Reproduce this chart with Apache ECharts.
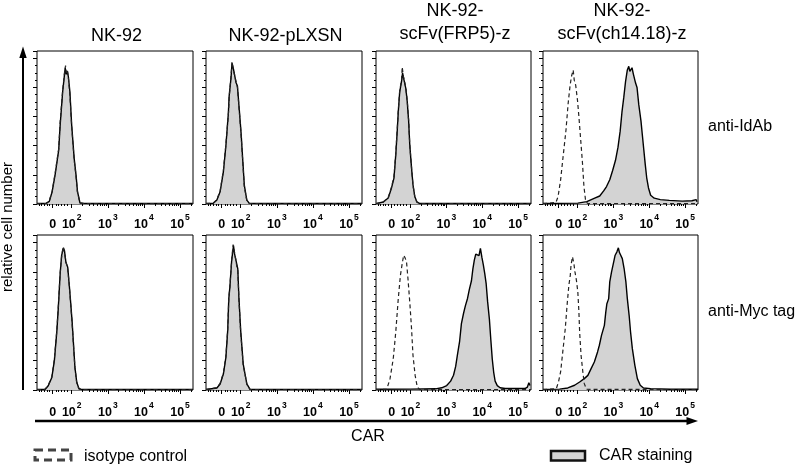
<!DOCTYPE html>
<html><head><meta charset="utf-8">
<script src="https://cdn.jsdelivr.net/npm/echarts@6/dist/echarts.min.js"></script>
<style>html,body{margin:0;padding:0;background:#fff}#c{width:798px;height:467px}</style>
</head><body><div id="c"></div>
<script>
// ---- text ----
const panelTitles = [['NK-92'], ['NK-92-pLXSN'], ['NK-92-', 'scFv(FRP5)-z'], ['NK-92-', 'scFv(ch14.18)-z']];
const rowLabels = ['anti-IdAb', 'anti-Myc tag'];
const xAxisTitle = 'CAR';
const yAxisTitle = 'relative cell number';
const legendIso = 'isotype control';
const legendCar = 'CAR staining';

// ---- x axis (biexponential display, in decades) ----
const tickValues = [1.474, 2, 3, 4, 5];
const tickBase = ['0', '10', '10', '10', '10'];
const tickExp = ['', '2', '3', '4', '5'];
const linearMinorTicks = [1.10, 1.17, 1.24, 1.31, 1.38, 1.56, 1.64, 1.72, 1.80, 1.88];
const xMin = 1.039, xMax = 5.36;

// ---- histogram data: [decade position, relative count] ----
// row 1: anti-IdAb
const nk92IdAbCar = [[1.04,0.3],[1.20,0.4],[1.29,0.4],[1.38,1.8],[1.46,8.6],[1.54,20],[1.64,37],[1.68,54],[1.75,77],[1.81,91],[1.82,93.5],[1.85,89],[1.88,91],[1.91,87],[1.93,86],[1.95,77],[2.00,54],[2.07,31],[2.12,20],[2.16,8.6],[2.23,0.7],[2.34,0.4],[3.2,0.3],[4.3,0.4],[5.36,0.3]];
const nk92IdAbIso = [[1.04,0.2],[1.29,0.3],[1.38,2.2],[1.46,9],[1.54,21],[1.64,38],[1.68,56],[1.75,78],[1.80,90],[1.83,95],[1.85,90],[1.88,92],[1.91,86],[1.93,85],[1.95,75],[2.00,53],[2.07,30],[2.12,19],[2.16,8],[2.23,0.8],[2.34,0.2],[5.36,0.2]];
const pLXSNIdAbCar = [[1.04,0.3],[1.24,0.5],[1.34,2.7],[1.43,8.4],[1.52,22],[1.59,40],[1.66,63],[1.68,74],[1.73,86],[1.76,96.6],[1.80,92.6],[1.82,93],[1.87,83.4],[1.91,81],[1.96,65],[2.01,49],[2.06,29],[2.10,13],[2.17,2.7],[2.24,0.4],[3.5,0.3],[5.36,0.3]];
const pLXSNIdAbIso = [[1.04,0.2],[1.24,0.6],[1.34,3],[1.43,9],[1.52,23],[1.59,41],[1.66,62],[1.68,73],[1.73,87],[1.76,97.5],[1.79,93],[1.82,94],[1.87,84],[1.91,80],[1.96,64],[2.01,48],[2.06,28],[2.10,12],[2.17,2.5],[2.24,0.2],[5.36,0.2]];
const frp5IdAbCar = [[1.04,0.3],[1.24,1.4],[1.38,4.1],[1.47,10.9],[1.54,17.8],[1.59,33.7],[1.63,49.7],[1.66,63.3],[1.70,77],[1.75,83.9],[1.78,90],[1.81,86.2],[1.84,87.3],[1.87,79.3],[1.91,70.2],[1.95,56.5],[1.98,40.6],[2.03,24.6],[2.07,13.2],[2.12,5.2],[2.18,1.4],[2.26,0.3],[5.36,0.3]];
const frp5IdAbIso = [[1.04,0.2],[1.24,1.2],[1.38,4.5],[1.47,11.5],[1.54,19],[1.59,35],[1.63,51],[1.66,64],[1.70,78],[1.75,85],[1.77,94],[1.80,88],[1.84,88],[1.87,80],[1.91,71],[1.95,57],[1.98,41],[2.03,25],[2.07,13],[2.12,5],[2.18,1.2],[2.26,0.2],[5.36,0.2]];
const ch1418IdAbCar = [[1.04,0.3],[2.01,0.6],[2.26,1.6],[2.48,4],[2.62,5.5],[2.73,9],[2.81,12],[2.90,16.6],[2.98,23],[3.06,30],[3.13,39],[3.19,50],[3.24,63],[3.29,73],[3.34,84],[3.39,92],[3.43,94.5],[3.46,91],[3.48,90.5],[3.52,93.5],[3.56,89],[3.62,83],[3.66,80],[3.71,68],[3.77,57],[3.81,47],[3.85,37],[3.89,27],[3.93,18],[3.98,11],[4.04,6],[4.14,4],[4.31,3],[4.56,2.5],[4.92,2],[5.19,2.2],[5.31,3],[5.33,1.5]];
const ch1418IdAbIso = [[1.04,0.2],[1.40,1.1],[1.46,5.2],[1.53,16.6],[1.60,32.6],[1.68,50.8],[1.74,69],[1.79,80.4],[1.83,87.3],[1.88,91.9],[1.91,85],[1.95,81.6],[2.00,71.3],[2.04,59.9],[2.09,44],[2.14,28],[2.18,12],[2.23,1.6],[2.29,0.3],[5.36,0.2]];
// row 2: anti-Myc tag
const nk92MycCar = [[1.04,0.3],[1.26,0.3],[1.35,2.9],[1.45,8.5],[1.52,19.9],[1.59,40.2],[1.63,56],[1.68,78.6],[1.72,91],[1.77,96.3],[1.80,94.4],[1.84,86.5],[1.89,83.1],[1.93,71.9],[1.96,62.8],[2.01,47],[2.05,31.2],[2.09,15.3],[2.14,5.2],[2.20,1],[2.28,0.3],[5.36,0.3]];
const nk92MycIso = [[1.04,0.2],[1.26,0.4],[1.35,3.2],[1.45,9],[1.52,21],[1.59,41],[1.63,57],[1.68,79],[1.72,90],[1.76,97],[1.80,93],[1.84,87],[1.89,82],[1.93,72],[1.96,62],[2.01,46],[2.05,30],[2.09,15],[2.14,5],[2.20,0.8],[2.28,0.2],[5.36,0.2]];
const pLXSNMycCar = [[1.04,0.3],[1.34,1.4],[1.43,4.1],[1.52,10.8],[1.59,22.1],[1.64,40.2],[1.67,61.7],[1.70,69.6],[1.75,87.7],[1.80,97.8],[1.83,92.2],[1.86,88.8],[1.89,85.4],[1.92,82],[1.95,62.8],[2.00,40.2],[2.07,17.6],[2.17,4.1],[2.26,0.4],[5.36,0.3]];
const pLXSNMycIso = [[1.04,0.2],[1.34,1.6],[1.43,4.5],[1.52,11.5],[1.59,23],[1.64,41],[1.67,62],[1.70,70],[1.75,88],[1.79,98.5],[1.83,93],[1.86,89],[1.89,84],[1.92,81],[1.95,62],[2.00,39],[2.07,17],[2.17,4],[2.26,0.2],[5.36,0.2]];
const frp5MycCar = [[1.04,0.5],[2.00,0.6],[2.70,0.8],[2.87,1.5],[3.01,3],[3.12,6],[3.20,10],[3.26,16],[3.31,24],[3.37,33],[3.42,45],[3.48,52],[3.53,57],[3.59,62],[3.64,68],[3.70,74],[3.74,82],[3.78,88],[3.82,92],[3.86,93],[3.91,91],[3.95,96],[3.99,90],[4.03,85],[4.07,79],[4.11,72],[4.15,60],[4.20,48],[4.24,34],[4.28,21],[4.32,12],[4.36,6],[4.42,3],[4.50,1.5],[4.64,1],[5.19,1],[5.26,2],[5.30,5],[5.33,3]];
const frp5MycIso = [[1.04,0.2],[1.34,0.5],[1.43,7.7],[1.52,21.2],[1.59,39.3],[1.66,61.9],[1.72,77.7],[1.77,85.7],[1.81,91.3],[1.85,89.5],[1.89,86.8],[1.93,75.5],[1.98,59.7],[2.03,41.6],[2.07,23.5],[2.13,9.9],[2.19,2],[2.26,0.2],[5.36,0.2]];
const ch1418MycCar = [[1.04,0.4],[1.50,0.6],[1.73,1.4],[1.92,3.2],[2.06,5.4],[2.19,7.7],[2.29,9.9],[2.38,14.5],[2.47,19],[2.56,25.8],[2.61,30.3],[2.67,37],[2.75,43.8],[2.79,52.9],[2.82,58.5],[2.87,61.9],[2.90,73.2],[2.95,80],[3.01,86.8],[3.05,91.3],[3.10,93.6],[3.14,96.3],[3.17,93.1],[3.21,94],[3.25,89],[3.30,82.3],[3.35,73.2],[3.39,61.9],[3.44,50.6],[3.48,39.3],[3.53,28],[3.60,16.7],[3.67,7.7],[3.75,3.2],[3.84,1.4],[4.04,0.9],[4.59,0.5],[5.36,0.5]];
const ch1418MycIso = [[1.04,0.2],[1.41,0.9],[1.47,5.4],[1.53,12.2],[1.59,25.8],[1.66,41.6],[1.71,57.4],[1.76,71],[1.80,77.7],[1.82,84.5],[1.86,90.2],[1.90,85.7],[1.93,80],[1.97,74.4],[2.01,66.4],[2.04,52.9],[2.06,39.3],[2.10,23.5],[2.15,12.2],[2.19,4.3],[2.25,0.5],[5.36,0.2]];

const carData = [nk92IdAbCar, pLXSNIdAbCar, frp5IdAbCar, ch1418IdAbCar, nk92MycCar, pLXSNMycCar, frp5MycCar, ch1418MycCar];
const isoData = [nk92IdAbIso, pLXSNIdAbIso, frp5IdAbIso, ch1418IdAbIso, nk92MycIso, pLXSNMycIso, frp5MycIso, ch1418MycIso];

// ---- layout ----
const FONT = "'Liberation Sans', Arial, Helvetica, sans-serif";
const gridLeft = [37, 206, 376, 543];
const gridWidth = [156, 156, 155, 155];
const gridTop = [51, 235];
const gridHeight = [153, 155];
const labelMargin = [9, 11];
const FILL = '#d3d3d3';

const logMinor = [];
for (let d = 2; d <= 5; d++) for (let k = 2; k <= 9; k++) { const v = d + Math.log10(k); if (v < xMax) logMinor.push(v); }
const minorTicks = linearMinorTicks.concat(logMinor);

function fmt(v) {
  let k = 0, best = 1e9;
  tickValues.forEach((t, i) => { if (Math.abs(t - v) < best) { best = Math.abs(t - v); k = i; } });
  return tickExp[k] ? '{b|' + tickBase[k] + '}{s|' + tickExp[k] + '}' : '{b|' + tickBase[k] + '}';
}

const grid = [], xAxis = [], yAxis = [], series = [];
for (let r = 0; r < 2; r++) for (let c = 0; c < 4; c++) {
  const i = r * 4 + c;
  grid.push({ left: gridLeft[c], top: gridTop[r], width: gridWidth[c], height: gridHeight[r], show: true, borderColor: '#000', borderWidth: 1, backgroundColor: 'transparent' });
  xAxis.push({
    gridIndex: i, type: 'value', min: xMin, max: xMax, position: 'bottom',
    axisLine: { show: false }, splitLine: { show: false },
    axisTick: { show: true, customValues: tickValues, length: 4, lineStyle: { color: '#000', width: 1 } },
    axisLabel: { show: true, customValues: tickValues, margin: labelMargin[r], formatter: fmt,
      rich: {
        b: { fontFamily: FONT, fontSize: 12.5, fontWeight: 'bold', color: '#000', lineHeight: 18, verticalAlign: 'bottom' },
        s: { fontFamily: FONT, fontSize: 8.5, fontWeight: 'bold', color: '#000', verticalAlign: 'top', lineHeight: 10, padding: [0, 0, 0, 1] }
      } }
  });
  xAxis.push({
    gridIndex: i, type: 'value', min: xMin, max: xMax, position: 'bottom',
    axisLine: { show: false }, splitLine: { show: false }, axisLabel: { show: false },
    axisTick: { show: true, customValues: minorTicks, length: 2, lineStyle: { color: '#000', width: 1 } }
  });
  yAxis.push({
    gridIndex: i, type: 'value', min: 0, max: 105, interval: 20,
    axisLine: { show: false }, splitLine: { show: false }, axisLabel: { show: false },
    axisTick: { show: true, length: 4, lineStyle: { color: '#000', width: 1 } },
    minorTick: { show: true, splitNumber: 4, length: 2, lineStyle: { color: '#000', width: 1 } }
  });
  series.push({
    name: legendCar, type: 'line', xAxisIndex: 2 * i, yAxisIndex: i, data: carData[i],
    symbol: 'none', smooth: false, silent: true, z: 2,
    lineStyle: { color: '#000', width: 1.4 }, areaStyle: { color: FILL, opacity: 1 }
  });
  series.push({
    name: legendIso, type: 'line', xAxisIndex: 2 * i, yAxisIndex: i, data: isoData[i],
    symbol: 'none', smooth: false, silent: true, z: 3,
    lineStyle: { color: '#222', width: 1.2, type: [4, 3] }
  });
}

const graphic = [];
// panel titles
const titleY1 = [36], titleY2 = [11.5, 34];
for (let c = 0; c < 4; c++) {
  const cx = gridLeft[c] + gridWidth[c] / 2 + 1.5;
  const lines = panelTitles[c];
  const ys = lines.length === 1 ? titleY1 : titleY2;
  lines.forEach((t, j) => graphic.push({ type: 'text', x: cx, y: ys[j], style: { text: t, font: '18px ' + FONT, fill: '#000', textAlign: 'center', textVerticalAlign: 'middle' } }));
}
// row labels
graphic.push({ type: 'text', x: 708, y: 127, style: { text: rowLabels[0], font: '16px ' + FONT, fill: '#000', textAlign: 'left', textVerticalAlign: 'middle' } });
graphic.push({ type: 'text', x: 708, y: 312, style: { text: rowLabels[1], font: '16px ' + FONT, fill: '#000', textAlign: 'left', textVerticalAlign: 'middle' } });
// axis arrows
graphic.push({ type: 'line', shape: { x1: 23, y1: 390, x2: 23, y2: 54 }, style: { stroke: '#000', lineWidth: 2 } });
graphic.push({ type: 'polygon', shape: { points: [[23, 46.5], [19.3, 58], [26.7, 58]] }, style: { fill: '#000' } });
graphic.push({ type: 'line', shape: { x1: 35, y1: 421, x2: 690, y2: 421 }, style: { stroke: '#000', lineWidth: 2.5 } });
graphic.push({ type: 'polygon', shape: { points: [[698, 421], [686.5, 417], [686.5, 425]] }, style: { fill: '#000' } });
// axis titles
graphic.push({ type: 'text', x: 8, y: 227, rotation: Math.PI / 2, style: { text: yAxisTitle, font: '15px ' + FONT, fill: '#000', textAlign: 'center', textVerticalAlign: 'middle' } });
graphic.push({ type: 'text', x: 368, y: 437, style: { text: xAxisTitle, font: '16px ' + FONT, fill: '#000', textAlign: 'center', textVerticalAlign: 'middle' } });
// legend
graphic.push({ type: 'rect', shape: { x: 35, y: 450, width: 36, height: 10 }, style: { fill: 'none', stroke: '#444', lineWidth: 3, lineDash: [8, 5] } });
graphic.push({ type: 'text', x: 84, y: 457, style: { text: legendIso, font: '16px ' + FONT, fill: '#000', textAlign: 'left', textVerticalAlign: 'middle' } });
graphic.push({ type: 'rect', shape: { x: 551, y: 451, width: 34, height: 9.5 }, style: { fill: FILL, stroke: '#111', lineWidth: 2.5 } });
graphic.push({ type: 'text', x: 599, y: 456, style: { text: legendCar, font: '16px ' + FONT, fill: '#000', textAlign: 'left', textVerticalAlign: 'middle' } });

const chart = echarts.init(document.getElementById('c'), null, { renderer: 'canvas' });
chart.setOption({ animation: false, backgroundColor: '#fff', grid, xAxis, yAxis, series, graphic });
</script></body></html>
